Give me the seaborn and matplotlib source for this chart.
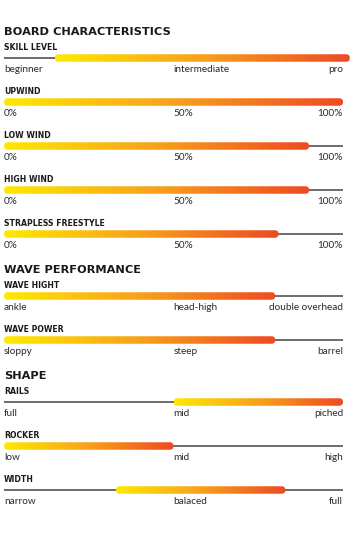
import numpy as np
import matplotlib.pyplot as plt
from matplotlib.patches import FancyBboxPatch
import seaborn as sns

# ---------------- Data ----------------
sections = ["BOARD CHARACTERISTICS", "WAVE PERFORMANCE", "SHAPE"]

section_rows = [
    ["SKILL LEVEL", "UPWIND", "LOW WIND", "HIGH WIND", "STRAPLESS FREESTYLE"],
    ["WAVE HIGHT", "WAVE POWER"],
    ["RAILS", "ROCKER", "WIDTH"],
]

bar_start = {
    "SKILL LEVEL": 15, "UPWIND": 0, "LOW WIND": 0, "HIGH WIND": 0,
    "STRAPLESS FREESTYLE": 0, "WAVE HIGHT": 0, "WAVE POWER": 0,
    "RAILS": 50, "ROCKER": 0, "WIDTH": 33,
}
bar_end = {
    "SKILL LEVEL": 102, "UPWIND": 100, "LOW WIND": 90, "HIGH WIND": 90,
    "STRAPLESS FREESTYLE": 81, "WAVE HIGHT": 80, "WAVE POWER": 80,
    "RAILS": 100, "ROCKER": 50, "WIDTH": 83,
}
scale_labels = {
    "SKILL LEVEL": ["beginner", "intermediate", "pro"],
    "UPWIND": ["0%", "50%", "100%"],
    "LOW WIND": ["0%", "50%", "100%"],
    "HIGH WIND": ["0%", "50%", "100%"],
    "STRAPLESS FREESTYLE": ["0%", "50%", "100%"],
    "WAVE HIGHT": ["ankle", "head-high", "double overhead"],
    "WAVE POWER": ["sloppy", "steep", "barrel"],
    "RAILS": ["full", "mid", "piched"],
    "ROCKER": ["low", "mid", "high"],
    "WIDTH": ["narrow", "balaced", "full"],
}
scale_pos = [0, 50, 100]

# ---------------- Setup ----------------
sns.set_theme(style="white")
plt.rcParams["font.family"] = ["DejaVu Sans"]

W, H = 358, 537
px_per_unit = 339 / 100          # 0..100 spans 339 px
x_left = -4 / px_per_unit
x_right = 100 + (W - 343) / px_per_unit

fig = plt.figure(figsize=(W / 100, H / 100), dpi=100)
ax = fig.add_axes([0, 0, 1, 1])

cmap = sns.blend_palette(["#FFE900", "#F8A01B", "#EE4A23"], as_cmap=True)
gradient = np.linspace(0, 1, 256).reshape(1, -1)

bar_h = 7.5
row_step = 44
section_gap = 18
y = 58

for s, title in enumerate(sections):
    ax.text(0, y - 26, title, fontsize=8.2, fontweight="bold",
            color="#1a1a1a", va="center", ha="left")
    for name in section_rows[s]:
        ax.text(0, y - 10, name, fontsize=5.6, fontweight="bold",
                color="#1a1a1a", va="center", ha="left")
        # track line
        ax.hlines(y, 0, 100, color="#444444", lw=1.1, zorder=1)
        # gradient bar
        x0, x1 = bar_start[name], bar_end[name]
        patch = FancyBboxPatch(
            (x0, y - bar_h / 2), x1 - x0, bar_h,
            boxstyle=f"round,pad=0,rounding_size={bar_h / 2 / px_per_unit}",
            mutation_aspect=px_per_unit,
            facecolor="none", edgecolor="none", zorder=2,
        )
        ax.add_patch(patch)
        im = ax.imshow(gradient, cmap=cmap, aspect="auto",
                       extent=(x0, x1, y + bar_h / 2, y - bar_h / 2),
                       zorder=2)
        im.set_clip_path(patch)
        # scale labels
        labels = scale_labels[name]
        ax.text(scale_pos[0], y + 12, labels[0], fontsize=7.2, family="Lato",
                color="#2a2a2a", va="center", ha="left")
        ax.text(scale_pos[1], y + 12, labels[1], fontsize=7.2, family="Lato",
                color="#2a2a2a", va="center", ha="left")
        ax.text(scale_pos[2], y + 12, labels[2], fontsize=7.2, family="Lato",
                color="#2a2a2a", va="center", ha="right")
        y += row_step
    y += section_gap

ax.set_xlim(x_left, x_right)
ax.set_ylim(H, 0)
ax.axis("off")

fig.savefig("out.png", dpi=100, facecolor="white")
